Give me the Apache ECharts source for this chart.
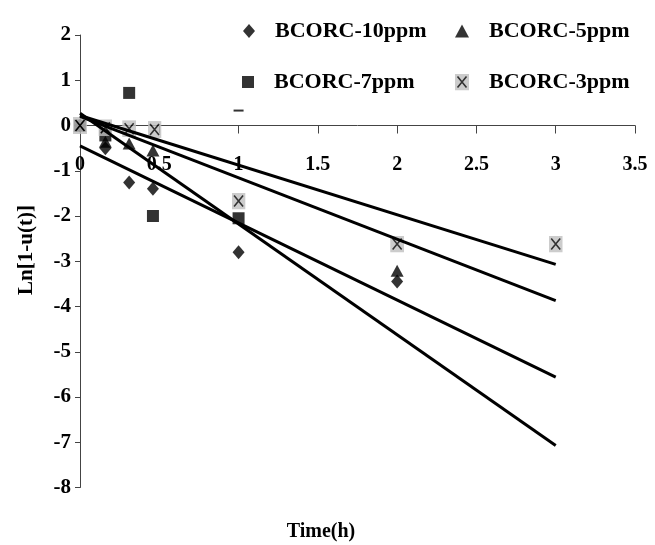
<!DOCTYPE html>
<html><head><meta charset="utf-8">
<script src="https://cdn.jsdelivr.net/npm/echarts@6/dist/echarts.min.js"></script>
<style>html,body{margin:0;padding:0;background:#fff}#c{width:655px;height:545px}</style>
</head><body><div id="c"></div>
<script>
// ---- data ----
const xTickLabels = ['0', '0.5', '1', '1.5', '2', '2.5', '3', '3.5'];
const yTickLabels = ['-8', '-7', '-6', '-5', '-4', '-3', '-2', '-1', '0', '1', '2'];

const s10Time = [0, 0.16, 0.31, 0.46, 1, 2];
const s10Val  = [0, -0.50, -1.26, -1.40, -2.80, -3.45];

const s5Time = [0, 0.16, 0.31, 0.46, 2];
const s5Val  = [0, -0.36, -0.40, -0.55, -3.21];

const s7Time = [0, 0.16, 0.31, 0.46, 1];
const s7Val  = [0, -0.22, 0.72, -2.00, -2.05];

const s3Time = [0, 0.16, 0.31, 0.47, 1, 2, 3];
const s3Val  = [0, -0.05, -0.07, -0.09, -1.67, -2.62, -2.62];

const strayTime = [1];
const strayVal  = [0.33];

const trendX     = [0, 3];
const trendStart = [0.22, 0.20, -0.45, 0.27];
const trendEnd   = [-3.07, -3.87, -5.56, -7.07];

const names = ['BCORC-10ppm', 'BCORC-5ppm', 'BCORC-7ppm', 'BCORC-3ppm'];

// ---- chart ----
const FONT = '"Liberation Serif", "Times New Roman", serif';
const zip = (a, b) => a.map((v, i) => [v, b[i]]);

const GRID_TOP = 35, GRID_BOTTOM = 57.5, H = 545;
const Y_MIN = -8, Y_MAX = 2;
const plotH = H - GRID_TOP - GRID_BOTTOM;
// move the bottom x axis up to the y = 0 line
const xAxisOffset = -(plotH * (0 - Y_MIN) / (Y_MAX - Y_MIN));

const xSvg = "<svg xmlns='http://www.w3.org/2000/svg' width='14' height='17' viewBox='0 0 14 17'>" +
  "<rect width='14' height='17' fill='#c0c0c0'/>" +
  "<path d='M2.5 3 L11.5 14 M11.5 3 L2.5 14' stroke='#000' stroke-width='1.6' fill='none'/></svg>";
const xSymbol = 'image://data:image/svg+xml;charset=utf-8,' + encodeURIComponent(xSvg);

const chart = echarts.init(document.getElementById('c'), null, {renderer: 'canvas'});

const legendText = {fontFamily: FONT, fontWeight: 'bold', fontSize: 22, color: '#000', padding: [0, 0, 0, 15]};
function mkLegend(name, left, top, w, h) {
  return {data: [name], left: left, top: top, padding: 0, itemWidth: w, itemHeight: h,
          textStyle: legendText, selectedMode: false};
}

const trendSeries = trendStart.map((s, i) => ({
  type: 'line', name: 'trend' + i, data: zip(trendX, [s, trendEnd[i]]),
  showSymbol: false, silent: true, z: 5,
  lineStyle: {color: '#000', width: 3}
}));

chart.setOption({
  animation: false,
  backgroundColor: '#fff',
  grid: {left: 80, right: 20, top: GRID_TOP, bottom: GRID_BOTTOM},
  legend: [
    mkLegend(names[0], 243, 20, 12, 14),
    mkLegend(names[1], 455, 20, 14, 13),
    mkLegend(names[2], 242, 71, 12, 12),
    mkLegend(names[3], 455, 71, 14, 17)
  ],
  xAxis: {
    type: 'value', min: 0, max: 3.5, interval: 0.5,
    position: 'bottom', offset: xAxisOffset,
    axisLine: {show: true, onZero: false, lineStyle: {color: '#444', width: 1}},
    axisTick: {show: true, inside: false, length: 8, lineStyle: {color: '#444'}},
    axisLabel: {margin: 29, fontFamily: FONT, fontWeight: 'bold', fontSize: 20, color: '#000',
      showMinLabel: true, showMaxLabel: true,
      formatter: (v) => xTickLabels[Math.round(v / 0.5)]},
    splitLine: {show: false}
  },
  yAxis: {
    type: 'value', min: Y_MIN, max: Y_MAX, interval: 1,
    axisLine: {show: true, onZero: false, lineStyle: {color: '#444', width: 1}},
    axisTick: {show: true, inside: false, length: 5, lineStyle: {color: '#444'}},
    axisLabel: {margin: 9, fontFamily: FONT, fontWeight: 'bold', fontSize: 21, color: '#000',
      formatter: (v) => yTickLabels[Math.round(v - Y_MIN)]},
    splitLine: {show: false}
  },
  graphic: [
    {type: 'text', x: 27, y: 250, rotation: Math.PI / 2,
     style: {text: 'Ln[1-u(t)]', fontFamily: FONT, fontWeight: 'bold', fontSize: 21, fill: '#000',
             align: 'center', verticalAlign: 'middle'}},
    {type: 'text', x: 321, y: 532,
     style: {text: 'Time(h)', fontFamily: FONT, fontWeight: 'bold', fontSize: 20, fill: '#000',
             align: 'center', verticalAlign: 'middle'}}
  ],
  series: [
    {type: 'scatter', name: names[0], data: zip(s10Time, s10Val), symbol: 'diamond', symbolSize: [12, 14],
     itemStyle: {color: '#000'}, z: 2},
    {type: 'scatter', name: names[1], data: zip(s5Time, s5Val), symbol: 'triangle', symbolSize: [13, 12],
     itemStyle: {color: '#000'}, z: 2},
    {type: 'scatter', name: names[2], data: zip(s7Time, s7Val), symbol: 'rect', symbolSize: [12, 12],
     itemStyle: {color: '#000'}, z: 2},
    {type: 'scatter', name: names[3], data: zip(s3Time, s3Val), symbol: xSymbol, symbolSize: [14, 17],
     itemStyle: {color: '#000'}, z: 3},
    {type: 'scatter', name: 'stray', data: zip(strayTime, strayVal), symbol: 'rect', symbolSize: [10, 2],
     itemStyle: {color: '#000'}, z: 2, silent: true}
  ].concat(trendSeries)
});
</script></body></html>
